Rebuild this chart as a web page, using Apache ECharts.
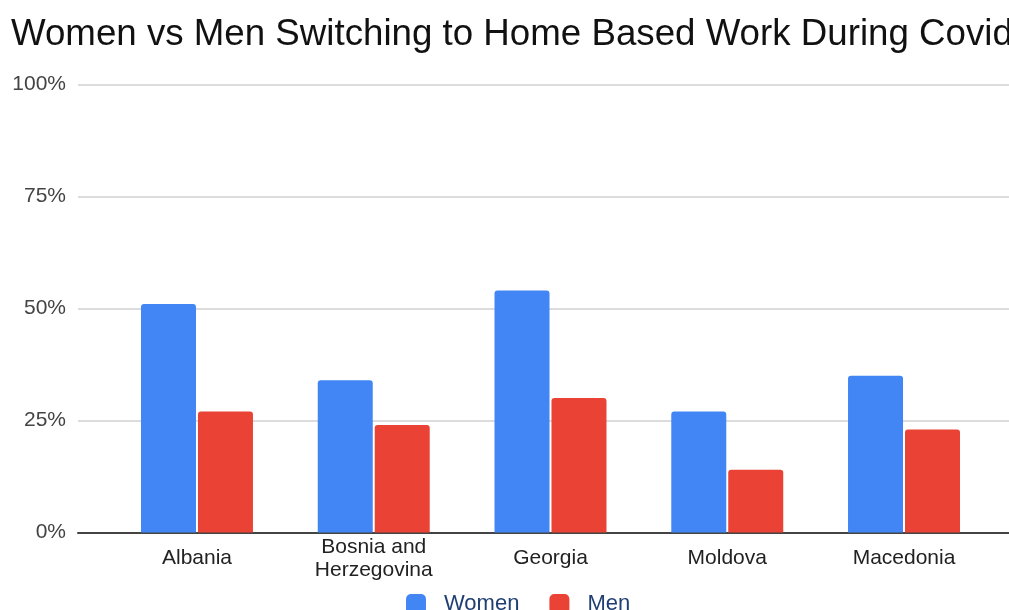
<!DOCTYPE html>
<html>
<head>
<meta charset="utf-8">
<script src="https://cdn.jsdelivr.net/npm/echarts@6/dist/echarts.min.js"></script>
<style>
  html, body { margin: 0; padding: 0; background: #fff; }
  #chart { width: 1009px; height: 610px; }
</style>
</head>
<body>
<div id="chart"></div>
<script>
// Share of workers who switched to home-based work during Covid, by country and sex
const countries = ['Albania', 'Bosnia and\nHerzegovina', 'Georgia', 'Moldova', 'Macedonia'];
const women = [51, 34, 54, 27, 35];
const men = [27, 24, 30, 14, 23];
const yTicks = [0, 25, 50, 75, 100];

const FONT = '"Liberation Sans", Arial, sans-serif';

const chart = echarts.init(document.getElementById('chart'), null, { renderer: 'canvas' });

chart.setOption({
  backgroundColor: '#ffffff',
  animation: false,
  title: {
    text: 'Women vs Men Switching to Home Based Work During Covid',
    left: 6,
    top: 11,
    textStyle: { fontFamily: FONT, fontSize: 36.7, fontWeight: 'normal', color: '#111' }
  },
  legend: {
    data: ['Women', 'Men'],
    left: 406,
    top: 593,
    padding: 0,
    icon: 'roundRect',
    itemWidth: 20,
    itemHeight: 20,
    itemGap: 30,
    textStyle: { fontFamily: FONT, fontSize: 22, color: '#1f3f72', padding: [0, 0, 0, 13] }
  },
  grid: [
    // bars
    { left: 108.6, right: 16.6, top: 84.5, bottom: 77.5, outerBoundsMode: 'none' },
    // gridlines, tick labels and baseline
    { left: 78, right: 0, top: 84.5, bottom: 77.5, outerBoundsMode: 'none' }
  ],
  xAxis: [
    {
      type: 'category',
      gridIndex: 0,
      data: countries,
      axisLine: { show: false },
      axisTick: { show: false },
      axisLabel: {
        fontFamily: FONT, fontSize: 21, color: '#222',
        margin: 26, lineHeight: 23, verticalAlign: 'middle', interval: 0
      }
    },
    {
      type: 'category',
      gridIndex: 1,
      data: [''],
      axisLine: { show: true, lineStyle: { color: '#444', width: 2 } },
      axisTick: { show: false },
      axisLabel: { show: false }
    }
  ],
  yAxis: [
    {
      type: 'value',
      gridIndex: 0,
      min: yTicks[0],
      max: yTicks[yTicks.length - 1],
      interval: 25,
      axisLine: { show: false },
      axisTick: { show: false },
      axisLabel: { show: false },
      splitLine: { show: false }
    },
    {
      type: 'value',
      gridIndex: 1,
      min: yTicks[0],
      max: yTicks[yTicks.length - 1],
      interval: 25,
      axisLine: { show: false },
      axisTick: { show: false },
      axisLabel: {
        fontFamily: FONT, fontSize: 21, color: '#444', margin: 12,
        formatter: v => v + '%'
      },
      splitLine: { show: true, lineStyle: { color: '#d0d0d0', width: 1.5 } }
    }
  ],
  series: [
    {
      name: 'Women',
      type: 'bar',
      xAxisIndex: 0,
      yAxisIndex: 0,
      data: women,
      barWidth: 55,
      barGap: '3.6%',
      itemStyle: { color: '#4285f4', borderRadius: [3, 3, 0, 0] },
      z: 3
    },
    {
      name: 'Men',
      type: 'bar',
      xAxisIndex: 0,
      yAxisIndex: 0,
      data: men,
      barWidth: 55,
      barGap: '3.6%',
      itemStyle: { color: '#ea4335', borderRadius: [3, 3, 0, 0] },
      z: 3
    }
  ]
});
</script>
</body>
</html>
